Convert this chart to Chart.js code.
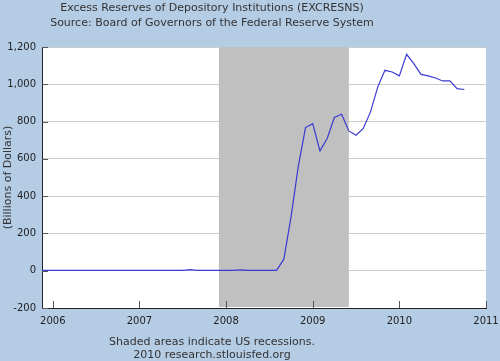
<!DOCTYPE html>
<html>
<head>
<meta charset="utf-8">
<title>Excess Reserves of Depository Institutions</title>
<script src="https://cdn.jsdelivr.net/npm/chart.js@4.4.0/dist/chart.umd.min.js"></script>
<style>
  html, body { margin: 0; padding: 0; background: #B5CCE5; }
  #wrap { position: relative; width: 500px; height: 361px; font-family: "DejaVu Sans", Verdana, sans-serif; font-size: 11px; color: #333; }
  #wrap canvas { position: absolute; left: 0; top: 0; }
  .txt { position: absolute; left: 0; width: 424px; text-align: center; white-space: nowrap; line-height: 15px; }
  #head { top: 0; }
  #foot { top: 335px; line-height: 13px; }
</style>
</head>
<body>
<div id="wrap">
  <canvas id="excChart" width="500" height="361"></canvas>
  <div class="txt" id="head">Excess Reserves of Depository Institutions (EXCRESNS)<br>Source: Board of Governors of the Federal Reserve System</div>
  <div class="txt" id="foot">Shaded areas indicate US recessions.<br>2010 research.stlouisfed.org</div>
</div>
<script>
// monthly observations, billions of dollars
const months = [
    '2005-11', '2005-12',
    '2006-01', '2006-02', '2006-03', '2006-04', '2006-05', '2006-06',
    '2006-07', '2006-08', '2006-09', '2006-10', '2006-11', '2006-12',
    '2007-01', '2007-02', '2007-03', '2007-04', '2007-05', '2007-06',
    '2007-07', '2007-08', '2007-09', '2007-10', '2007-11', '2007-12',
    '2008-01', '2008-02', '2008-03', '2008-04', '2008-05', '2008-06',
    '2008-07', '2008-08', '2008-09', '2008-10', '2008-11', '2008-12',
    '2009-01', '2009-02', '2009-03', '2009-04', '2009-05', '2009-06',
    '2009-07', '2009-08', '2009-09', '2009-10', '2009-11', '2009-12',
    '2010-01', '2010-02', '2010-03', '2010-04', '2010-05', '2010-06',
    '2010-07', '2010-08', '2010-09', '2010-10'
];
const excessReserves = [
    1.8, 1.9,
    1.9, 1.7, 1.7, 1.8, 1.7, 1.8, 1.9, 1.7, 1.8, 1.7, 1.7, 1.8,
    1.8, 1.6, 1.7, 1.6, 1.6, 1.7, 1.7, 6.0, 2.0, 1.8, 1.7, 1.6,
    1.6, 1.7, 5.0, 1.8, 1.9, 2.2, 2.0, 1.9, 62, 290, 560, 768,
    789, 643, 709, 822, 839, 750, 727, 763, 852, 985, 1075, 1066,
    1045, 1161, 1111, 1053, 1045, 1034, 1018, 1018, 977, 972
];
const yearTicks = [2006, 2007, 2008, 2009, 2010, 2011];
const valueTicks = [-200, 0, 200, 400, 600, 800, 1000, 1200];
// recession periods as [start month, end month]
const recessions = [['2007-12', '2009-06']];

function monthToYear(m) {
    const parts = m.split('-');
    return Number(parts[0]) + (Number(parts[1]) - 1) / 12;
}

const points = months.map((m, i) => ({ x: monthToYear(m), y: excessReserves[i] }));

// white plot area, then grey bands for recessions
const plotBackground = {
    id: 'plotBackground',
    beforeDraw(chart) {
        const { ctx, chartArea } = chart;
        ctx.save();
        ctx.fillStyle = '#FFFFFF';
        ctx.fillRect(chartArea.left, chartArea.top, chartArea.right - chartArea.left, chartArea.bottom - chartArea.top);
        ctx.restore();
    }
};

const recessionShade = {
    id: 'recessionShade',
    beforeDatasetsDraw(chart) {
        const { ctx, chartArea, scales } = chart;
        ctx.save();
        ctx.fillStyle = '#C0C0C0';
        recessions.forEach(r => {
            const x1 = scales.x.getPixelForValue(monthToYear(r[0]));
            const x2 = scales.x.getPixelForValue(monthToYear(r[1]));
            ctx.fillRect(x1, chartArea.top, x2 - x1, chartArea.bottom - chartArea.top - 1);
        });
        ctx.restore();
    }
};

// short tick marks pointing into the plot
const innerTicks = {
    id: 'innerTicks',
    afterDraw(chart) {
        const { ctx, chartArea, scales } = chart;
        ctx.save();
        ctx.strokeStyle = '#555';
        ctx.lineWidth = 1;
        ctx.beginPath();
        yearTicks.forEach(t => {
            const x = Math.round(scales.x.getPixelForValue(t)) + 0.5;
            ctx.moveTo(x, chartArea.bottom);
            ctx.lineTo(x, chartArea.bottom - 7);
        });
        valueTicks.forEach(t => {
            const y = Math.round(scales.y.getPixelForValue(t)) + 0.5;
            ctx.moveTo(chartArea.left, y);
            ctx.lineTo(chartArea.left + 6, y);
        });
        ctx.stroke();
        ctx.restore();
    }
};

Chart.defaults.font.family = '"DejaVu Sans", Verdana, sans-serif';
Chart.defaults.font.size = 10;
Chart.defaults.color = '#222';

new Chart(document.getElementById('excChart').getContext('2d'), {
    type: 'line',
    data: {
        datasets: [{
            label: 'EXCRESNS',
            data: points,
            borderColor: '#3A3AD2',
            borderWidth: 1.2,
            pointRadius: 0,
            tension: 0,
            fill: false
        }]
    },
    options: {
        responsive: false,
        animation: false,
        devicePixelRatio: 1,
        layout: { padding: { left: 0, top: 47, right: 14, bottom: 0 } },
        plugins: {
            legend: { display: false },
            tooltip: { enabled: false }
        },
        scales: {
            x: {
                type: 'linear',
                min: 2005.875,
                max: 2011,
                afterBuildTicks: s => { s.ticks = yearTicks.map(v => ({ value: v })); },
                afterFit: s => { s.height = 53; s.paddingLeft = 0; s.paddingRight = 0; },
                grid: { display: false, drawTicks: false },
                border: { color: '#222', width: 1 },
                ticks: { padding: 7, maxRotation: 0, callback: v => String(v) }
            },
            y: {
                min: -200,
                max: 1200,
                afterBuildTicks: s => { s.ticks = valueTicks.map(v => ({ value: v })); },
                afterFit: s => { s.width = 42; s.paddingTop = 0; s.paddingBottom = 0; },
                grid: { color: '#CCCCCC', drawTicks: false },
                border: { color: '#222', width: 1 },
                ticks: { padding: 6, callback: v => v.toLocaleString('en-US') },
                title: { display: true, text: '(Billions of Dollars)', color: '#333', font: { size: 11 }, padding: { top: 2, bottom: 0 } }
            }
        }
    },
    plugins: [plotBackground, recessionShade, innerTicks]
});
</script>
</body>
</html>
